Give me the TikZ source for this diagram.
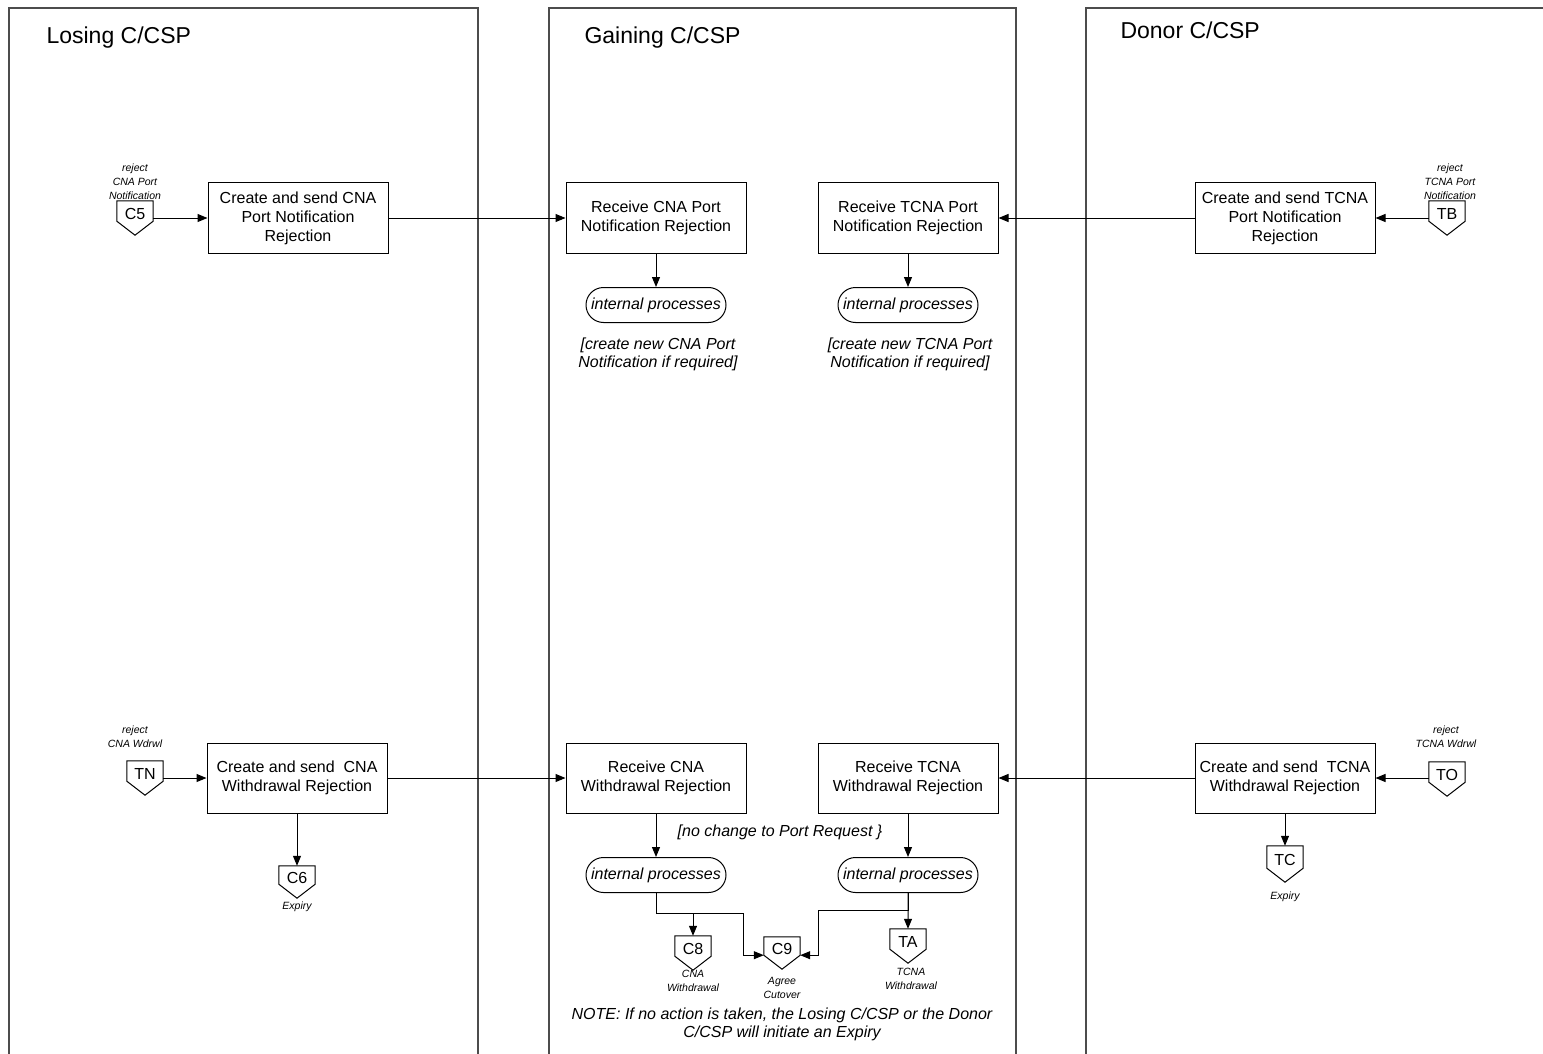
\documentclass[tikz,border=0pt]{standalone}
\usepackage{fontspec}
\setmainfont{Liberation Sans}
\usetikzlibrary{arrows.meta,shapes.misc}

\begin{document}
\begin{tikzpicture}[x=1pt, y=-1pt, >={Triangle[length=10pt,width=8pt]},
  lane/.style={draw=black!70, line width=1.3pt},
  lanename/.style={anchor=west, font=\fontsize{23}{27}\selectfont},
  proc/.style={draw, line width=1pt, minimum width=180pt, minimum height=70pt,
    align=center, inner sep=2pt, font=\fontsize{16}{19}\selectfont},
  intproc/.style={draw, rounded rectangle, line width=1pt, minimum width=144pt,
    minimum height=35pt, inner sep=2pt, font=\fontsize{16}{19}\selectfont\itshape},
  remark/.style={align=center, inner sep=0pt, font=\fontsize{16}{18}\selectfont\itshape},
  offpage/.style={minimum width=36pt, minimum height=20pt, inner sep=0pt,
    text height=17pt, text depth=0pt, font=\fontsize{16}{18}\selectfont,
    append after command={\pgfextra{\draw[line width=1pt]
      (\tikzlastnode.south west) -- (\tikzlastnode.north west)
      -- (\tikzlastnode.north east) -- (\tikzlastnode.south east)
      -- ([yshift=-14pt]\tikzlastnode.south) -- cycle;}}},
  tag/.style={align=center, inner sep=0pt, font=\fontsize{10.5}{14}\selectfont\itshape},
  flow/.style={->, line width=1pt}]
  \useasboundingbox (0,0) rectangle (1543,1054);
  % Lanes.
  \draw[lane] (9,1054) -- (9,8) -- (478,8) -- (478,1054);
  \draw[lane] (549,1054) -- (549,8) -- (1016,8) -- (1016,1054);
  \draw[lane] (1086,1054) -- (1086,8) -- (1543,8);
  \node[lanename] (losing) at (43,38) {Losing C/CSP};
  \node[lanename] (gaining) at (581,38) {Gaining C/CSP};
  \node[lanename] (donor) at (1117,30) {Donor C/CSP};
  % Port notification rejection.
  \node[offpage] (C5) at (135,211) {C5};
  \node[tag] (C5l) at (135,182) {reject\\CNA Port\\Notification};
  \node[proc] (L1) at (298,218) {Create and send CNA\\Port Notification\\Rejection};
  \node[proc] (M1) at (656,218) {Receive CNA Port\\Notification Rejection};
  \node[proc] (M2) at (908,218) {Receive TCNA Port\\Notification Rejection};
  \node[proc] (R1) at (1285,218) {Create and send TCNA\\Port Notification\\Rejection};
  \node[offpage] (TB) at (1447,211) {TB};
  \node[tag] (TBl) at (1450,182) {reject\\TCNA Port\\Notification};
  \node[intproc] (IP1) at (656,305) {internal processes};
  \node[intproc] (IP2) at (908,305) {internal processes};
  \node[remark] (N1) at (658,354) {[create new CNA Port\\Notification if required]};
  \node[remark] (N2) at (910,354) {[create new TCNA Port\\Notification if required]};
  \draw[flow] (C5.east |- L1.west) -- (L1.west);
  \draw[flow] (L1) -- (M1);
  \draw[flow] (TB.west |- R1.east) -- (R1.east);
  \draw[flow] (R1) -- (M2);
  \draw[flow] (M1) -- (IP1);
  \draw[flow] (M2) -- (IP2);
  % Withdrawal rejection.
  \node[tag] (TNl) at (135,737) {reject\\CNA Wdrwl};
  \node[offpage] (TN) at (145,771) {TN};
  \node[proc] (L2) at (297,778) {Create and send~ CNA\\Withdrawal Rejection};
  \node[offpage, minimum height=18pt] (C6) at (297,875) {C6};
  \node[tag] (C6l) at (297,907) {Expiry};
  \node[proc] (M3) at (656,778) {Receive CNA\\Withdrawal Rejection};
  \node[proc] (M4) at (908,778) {Receive TCNA\\Withdrawal Rejection};
  \node[proc] (R2) at (1285,778) {Create and send~ TCNA\\Withdrawal Rejection};
  \node[offpage] (TO) at (1447,772) {TO};
  \node[tag] (TOl) at (1446,737) {reject\\TCNA Wdrwl};
  \node[offpage, minimum height=22pt] (TC) at (1285,857) {TC};
  \node[tag] (TCl) at (1285,897) {Expiry};
  \node[remark] (N3) at (780,832) {[no change to Port Request \}};
  \node[intproc] (IP3) at (656,875) {internal processes};
  \node[intproc] (IP4) at (908,875) {internal processes};
  \node[offpage] (C8) at (693,946) {C8};
  \node[tag] (C8l) at (693,981) {CNA\\Withdrawal};
  \node[offpage, minimum height=18pt] (C9) at (782,946) {C9};
  \node[tag] (C9l) at (782,988) {Agree\\Cutover};
  \node[offpage] (TA) at (908,939) {TA};
  \node[tag] (TAl) at (911,979) {TCNA\\Withdrawal};
  \node[remark] (note) at (782,1024) {NOTE: If no action is taken, the Losing C/CSP or the Donor\\C/CSP will initiate an Expiry};
  \coordinate (jL) at (743,913);
  \coordinate (jR) at (818,910);
  \draw[flow] (TN.east |- L2.west) -- (L2.west);
  \draw[flow] (L2) -- (M3);
  \draw[flow] (TO.west |- R2.east) -- (R2.east);
  \draw[flow] (R2) -- (M4);
  \draw[flow] (L2) -- (C6);
  \draw[flow] (R2) -- (TC);
  \draw[flow] (M3) -- (IP3);
  \draw[flow] (M4) -- (IP4);
  \draw[flow] (IP3.south) |- (jL) |- (C9.south west);
  \draw[flow] (C8.north |- jL) -- (C8);
  \draw[flow] (IP4.south) |- (jR) |- (C9.south east);
  \draw[flow] (IP4) -- (TA);
\end{tikzpicture}
\end{document}
